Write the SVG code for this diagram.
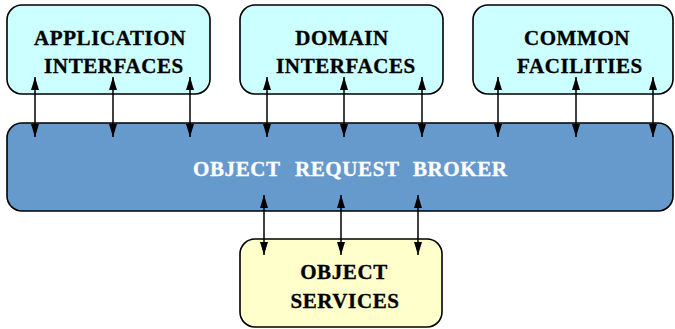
<svg xmlns="http://www.w3.org/2000/svg" width="675" height="329" viewBox="0 0 675 329">
<style>
.box{stroke:#000;stroke-width:1.6}
.top{fill:#ccffff}
.orb{fill:#6699cc}
.svc{fill:#ffffcc}
.t{font-family:"Liberation Serif","Times New Roman",serif;font-weight:bold;font-size:21px;letter-spacing:0.6px;fill:#000;stroke:#000;stroke-width:0.35px;text-anchor:middle}
.w{fill:#fff;stroke:#fff;text-anchor:start}
.c line{stroke:#000;stroke-width:1.5;marker-start:url(#ah);marker-end:url(#ah)}
</style>
<defs>
<marker id="ah" viewBox="0 0 13 8" refX="13" refY="4" markerWidth="13" markerHeight="8" markerUnits="userSpaceOnUse" orient="auto-start-reverse">
<path d="M0,0 L13,4 L0,8 Z" fill="#000"/>
</marker>
</defs>
<rect width="675" height="329" fill="#fff"/>
<g id="orb">
<rect class="box orb" x="7" y="123" width="666" height="88" rx="15"/>
<text class="t w" x="193" y="176">OBJECT</text>
<text class="t w" x="295" y="176">REQUEST</text>
<text class="t w" x="413" y="176">BROKER</text>
</g>
<g id="app">
<rect class="box top" x="7" y="5" width="203" height="89" rx="15"/>
<text class="t" x="110" y="45">APPLICATION</text>
<text class="t" x="114" y="73">INTERFACES</text>
</g>
<g id="domain">
<rect class="box top" x="240" y="5" width="203" height="89" rx="15"/>
<text class="t" x="342" y="45">DOMAIN</text>
<text class="t" x="346" y="73">INTERFACES</text>
</g>
<g id="common">
<rect class="box top" x="473" y="5" width="200" height="89" rx="15"/>
<text class="t" x="577" y="45">COMMON</text>
<text class="t" x="580" y="73">FACILITIES</text>
</g>
<g id="services">
<rect class="box svc" x="240" y="239" width="202" height="88" rx="15"/>
<text class="t" x="344" y="279">OBJECT</text>
<text class="t" x="345" y="308">SERVICES</text>
</g>
<g id="connectors" class="c">
<line x1="35" y1="77" x2="35" y2="137"/>
<line x1="113" y1="77" x2="113" y2="137"/>
<line x1="190" y1="77" x2="190" y2="137"/>
<line x1="267" y1="77" x2="267" y2="137"/>
<line x1="344" y1="77" x2="344" y2="137"/>
<line x1="422" y1="77" x2="422" y2="137"/>
<line x1="498" y1="77" x2="498" y2="137"/>
<line x1="576" y1="77" x2="576" y2="137"/>
<line x1="653" y1="77" x2="653" y2="137"/>
<line x1="264" y1="195" x2="264" y2="255"/>
<line x1="341" y1="195" x2="341" y2="255"/>
<line x1="418" y1="195" x2="418" y2="255"/>
</g>
</svg>
